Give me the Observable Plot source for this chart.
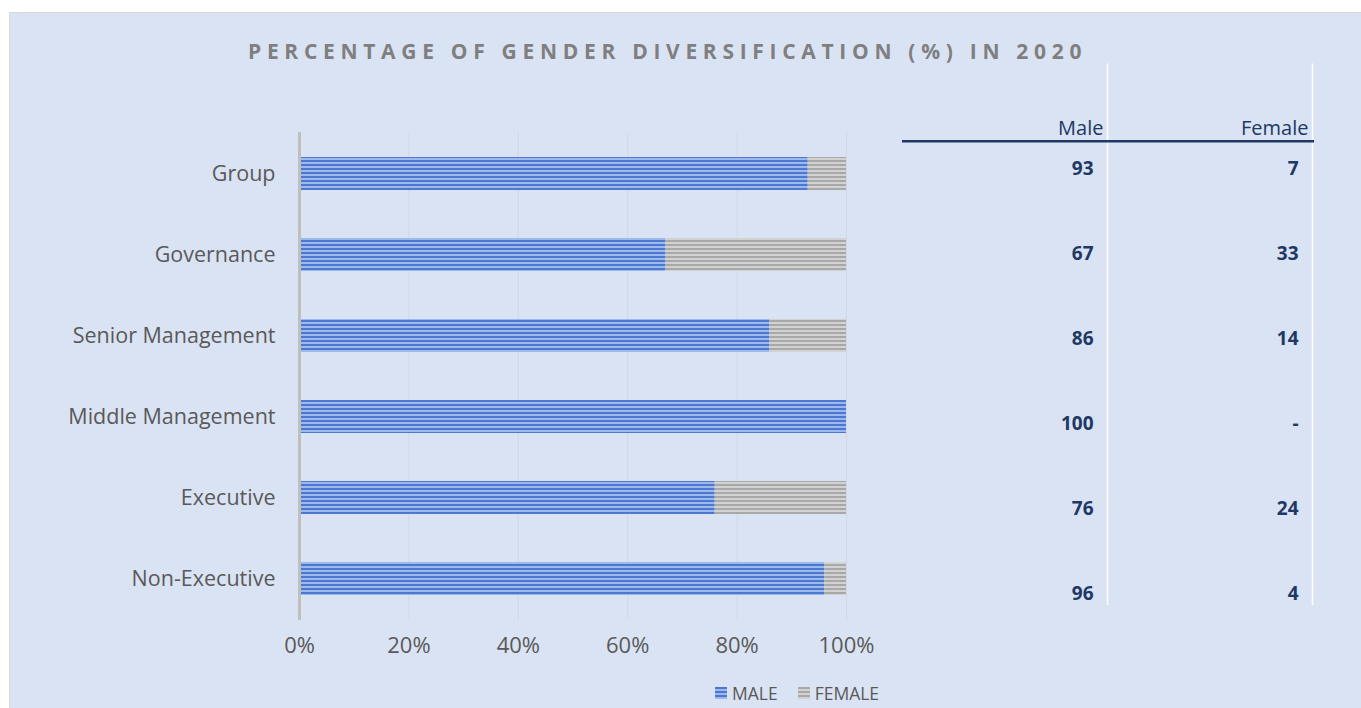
<!DOCTYPE html>
<html>
<head>
<meta charset="utf-8">
<script src="https://cdn.jsdelivr.net/npm/d3@7"></script>
<script src="https://cdn.jsdelivr.net/npm/@observablehq/plot@0.6"></script>
<style>
  html, body { margin: 0; padding: 0; background: #ffffff; }
  #page { position: relative; width: 1361px; height: 708px; overflow: hidden; }
  #frame { position: absolute; left: 9px; top: 12px; width: 1360px; height: 705px;
           background: #dae3f3; border: 1px solid #d9d9d9; box-sizing: border-box; }
  #title { position: absolute; left: 248px; top: 37px; white-space: nowrap;
           font-family: "Open Sans", Lato, sans-serif; font-weight: 700; font-size: 21px;
           letter-spacing: 5.7px; color: #7f7f7f; }
  #chart { position: absolute; left: 0; top: 0; }
  #table { position: absolute; left: 900px; top: 0; }
  #legend { position: absolute; top: 680px; left: 715px; white-space: nowrap;
            font-family: "Open Sans", Lato, sans-serif; font-size: 17.5px; color: #595959; }
  #legend span.item { display: inline-flex; align-items: center; margin-right: 20px; }
  #legend .sw { display: inline-block; width: 12px; height: 12px; margin-right: 5px; }
</style>
</head>
<body>
<div id="page">
  <div id="frame"></div>
  <div id="title"></div>
  <div id="chart"></div>
  <div id="table"></div>
  <div id="legend"></div>
</div>
<script>
// ---- data ----
const categories = ["Group", "Governance", "Senior Management", "Middle Management", "Executive", "Non-Executive"];
const maleValues = [93, 67, 86, 100, 76, 96];
const femaleValues = [7, 33, 14, 0, 24, 4];
const seriesNames = ["Male", "Female"];
const legendLabels = ["MALE", "FEMALE"];
const xTicks = [0, 20, 40, 60, 80, 100];
const titleText = "PERCENTAGE OF GENDER DIVERSIFICATION (%) IN 2020";

const rows = categories.map((c, i) => ({category: c, male: maleValues[i], female: femaleValues[i]}));
const font = "'Open Sans', Lato, sans-serif";

document.getElementById("title").textContent = titleText;

// ---- main bar chart ----
const chart = Plot.plot({
  width: 900,
  height: 708,
  marginLeft: 299,
  marginRight: 54,
  marginTop: 132,
  marginBottom: 88,
  style: {background: "transparent", fontFamily: font, overflow: "visible"},
  x: {domain: [0, 100], ticks: xTicks, tickFormat: d => d + "%"},
  y: {domain: categories, paddingInner: 0.59, paddingOuter: 0.295},
  marks: [
    Plot.ruleX(xTicks.filter(d => d > 0), {stroke: "#d3d7e0", strokeWidth: 1}),
    Plot.barX(rows, {y: "category", x1: 0, x2: "male", fill: "url(#pat-male)"}),
    Plot.barX(rows.filter(d => d.female > 0), {y: "category", x1: "male", x2: 100, fill: "url(#pat-female)"}),
    Plot.ruleX([0], {stroke: "#bfbfbf", strokeWidth: 3}),
    Plot.axisX({ticks: xTicks, tickFormat: d => d + "%", tickSize: 0, tickPadding: 17,
                fontSize: 22, color: "#595959", label: null}),
    Plot.axisY({tickSize: 0, tickPadding: 24, fontSize: 21.5, color: "#595959", label: null})
  ]
});
// stripe patterns
const defs = document.createElementNS("http://www.w3.org/2000/svg", "defs");
defs.innerHTML = `
  <pattern id="pat-male" width="6" height="4" patternUnits="userSpaceOnUse">
    <rect width="6" height="4" fill="#9db8ea"/>
    <rect width="6" height="2" fill="#4d78d2"/>
  </pattern>
  <pattern id="pat-female" width="6" height="4" patternUnits="userSpaceOnUse">
    <rect width="6" height="4" fill="#d2d2d2"/>
    <rect width="6" height="2" fill="#a8a8a8"/>
  </pattern>`;
chart.insertBefore(defs, chart.firstChild);
document.getElementById("chart").appendChild(chart);

// ---- data table ----
const cells = [];
categories.forEach((c, i) => {
  cells.push({row: i, col: 1, text: String(maleValues[i])});
  cells.push({row: i, col: 2, text: femaleValues[i] === 0 ? "-" : String(femaleValues[i])});
});
const headers = seriesNames.map((s, i) => ({col: i + 1, text: s}));
const navy = "#203864";
const table = Plot.plot({
  width: 461,
  height: 708,
  margin: 0,
  style: {background: "transparent", fontFamily: font, overflow: "visible"},
  x: {domain: [0, 2], range: [2, 412], axis: null},
  y: {domain: [-1.3, 6], range: [57.5, 678], axis: null},
  marks: [
    Plot.ruleX([1, 2], {y1: -1.23, y2: 5.14, stroke: "#ffffff", strokeWidth: 1.5}),
    Plot.ruleY([-0.32], {x1: 0, x2: 2.01, stroke: navy, strokeWidth: 2.5}),
    Plot.text(headers, {x: "col", y: -0.47, text: "text", textAnchor: "end", dx: -4,
                        fontSize: 20, fill: navy}),
    Plot.text(cells, {x: "col", y: "row", text: "text", textAnchor: "end", dx: -14,
                      fontSize: 19, fontWeight: "bold", fill: navy})
  ]
});
document.getElementById("table").appendChild(table);

// ---- legend ----
const lg = document.getElementById("legend");
const swatches = [
  "repeating-linear-gradient(to bottom, #4d78d2 0 2px, #9db8ea 2px 4px)",
  "repeating-linear-gradient(to bottom, #a8a8a8 0 2px, #d2d2d2 2px 4px)"
];
legendLabels.forEach((l, i) => {
  const s = document.createElement("span");
  s.className = "item";
  s.innerHTML = `<span class="sw" style="background:${swatches[i]}"></span>${l}`;
  lg.appendChild(s);
});
</script>
</body>
</html>
